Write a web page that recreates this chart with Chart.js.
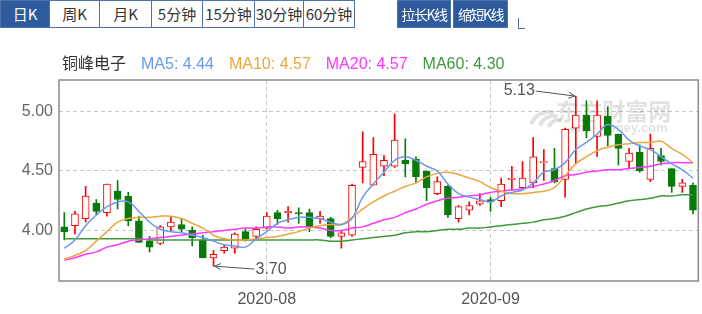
<!DOCTYPE html>
<html>
<head>
<meta charset="utf-8">
<script src="https://cdn.jsdelivr.net/npm/chart.js@4"></script>
<style>
body { margin: 0; width: 702px; height: 314px; overflow: hidden; background: #fff; position: relative;
  font-family: "Liberation Sans", Arial, "Noto Sans CJK SC", sans-serif; }
canvas { position: absolute; left: 0; top: 0; }
.tab { position: absolute; top: 0; height: 28px; box-sizing: border-box; border: 1px solid #4c73ad;
  font-size: 15px; line-height: 26px; text-align: center; color: #333; background: #fff;
  font-family: "Noto Sans CJK SC", sans-serif; white-space: nowrap; overflow: hidden; }
.tab.on, .btn { background: #2e5b9c; color: #fff; }
.btn { font-size: 14px; letter-spacing: -1.5px; }
#legend { position: absolute; left: 62px; top: 53px; font-size: 16px; white-space: nowrap; line-height: 18px; }
#legend span { margin-right: 15px; }
</style>
</head>
<body>
<canvas id="kline" width="702" height="314"></canvas>
<div class="tab on" style="left:0;width:50px">日K</div>
<div class="tab" style="left:49px;width:51px">周K</div>
<div class="tab" style="left:99px;width:53px">月K</div>
<div class="tab" style="left:151px;width:52px">5分钟</div>
<div class="tab" style="left:202px;width:53px">15分钟</div>
<div class="tab" style="left:254px;width:50px">30分钟</div>
<div class="tab" style="left:303px;width:52px">60分钟</div>
<div class="tab btn" style="left:397px;width:54px">拉长K线</div>
<div class="tab btn" style="left:453px;width:55px">缩短K线</div>
<div style="position:absolute;left:518px;top:18px;width:6px;height:10px;border-left:1px solid #4c73ad;border-bottom:1px solid #4c73ad"></div>
<div id="legend"></div>
<script>
const stockName = "铜峰电子";

const dates = [
  "2020-07-07", "2020-07-08", "2020-07-09", "2020-07-10", "2020-07-13", "2020-07-14", "2020-07-15",
  "2020-07-16", "2020-07-17", "2020-07-20", "2020-07-21", "2020-07-22", "2020-07-23", "2020-07-24",
  "2020-07-27", "2020-07-28", "2020-07-29", "2020-07-30", "2020-07-31",
  "2020-08-03", "2020-08-04", "2020-08-05", "2020-08-06", "2020-08-07", "2020-08-10", "2020-08-11",
  "2020-08-12", "2020-08-13", "2020-08-14", "2020-08-17", "2020-08-18", "2020-08-19", "2020-08-20",
  "2020-08-21", "2020-08-24", "2020-08-25", "2020-08-26", "2020-08-27", "2020-08-28", "2020-08-31",
  "2020-09-01", "2020-09-02", "2020-09-03", "2020-09-04", "2020-09-07", "2020-09-08", "2020-09-09",
  "2020-09-10", "2020-09-11", "2020-09-14", "2020-09-15", "2020-09-16", "2020-09-17", "2020-09-18",
  "2020-09-21", "2020-09-22", "2020-09-23", "2020-09-24", "2020-09-25", "2020-09-28"
];

const opens = [4.03, 4.04, 4.10, 4.23, 4.15, 4.33, 4.29, 4.08, 3.91, 3.89,
  4.03, 4.05, 4.00, 3.92, 3.77, 3.83, 3.85, 3.99, 3.95, 4.02,
  4.15, 4.15, 4.15, 4.15, 4.10, 4.10, 3.95, 3.96, 4.53, 4.38,
  4.54, 4.54, 4.59, 4.60, 4.50, 4.31, 4.37, 4.10, 4.17, 4.22,
  4.26, 4.25, 4.43, 4.36, 4.40, 4.57, 4.52, 4.43, 4.86, 4.97,
  4.79, 4.96, 4.81, 4.58, 4.66, 4.43, 4.63, 4.52, 4.37, 4.38];
const closes = [3.99, 4.14, 4.29, 4.16, 4.39, 4.26, 4.08, 3.90, 3.86, 4.03,
  4.07, 4.01, 3.94, 3.77, 3.80, 3.86, 3.97, 3.92, 4.01, 4.12,
  4.10, 4.16, 4.14, 4.03, 4.12, 3.95, 3.98, 4.38, 4.58, 4.64,
  4.59, 4.76, 4.56, 4.45, 4.36, 4.41, 4.13, 4.20, 4.21, 4.25,
  4.24, 4.39, 4.44, 4.44, 4.62, 4.58, 4.41, 4.85, 4.97, 4.84,
  4.97, 4.80, 4.69, 4.65, 4.50, 4.69, 4.58, 4.37, 4.40, 4.17];
const highs = [4.15, 4.16, 4.37, 4.26, 4.39, 4.42, 4.32, 4.12, 3.95, 4.04,
  4.11, 4.10, 4.03, 3.96, 3.83, 3.88, 3.98, 4.01, 4.03, 4.15,
  4.17, 4.20, 4.19, 4.18, 4.16, 4.11, 4.00, 4.39, 4.83, 4.78,
  4.63, 4.98, 4.77, 4.62, 4.50, 4.45, 4.38, 4.21, 4.24, 4.31,
  4.28, 4.44, 4.54, 4.58, 4.78, 4.68, 4.69, 4.86, 5.13, 5.09,
  5.09, 5.04, 4.81, 4.69, 4.72, 4.81, 4.69, 4.52, 4.43, 4.40];
const lows = [3.92, 3.97, 4.07, 4.13, 4.12, 4.18, 4.04, 3.90, 3.82, 3.88,
  3.99, 3.99, 3.87, 3.77, 3.70, 3.81, 3.81, 3.91, 3.94, 4.01,
  4.05, 4.07, 4.06, 3.99, 4.06, 3.94, 3.85, 3.95, 4.40, 4.38,
  4.46, 4.53, 4.45, 4.40, 4.25, 4.30, 4.11, 4.07, 4.13, 4.21,
  4.16, 4.20, 4.34, 4.35, 4.36, 4.42, 4.40, 4.28, 4.56, 4.78,
  4.62, 4.71, 4.55, 4.52, 4.49, 4.41, 4.55, 4.32, 4.32, 4.14];

const ma5 = [3.85, 3.92, 4.04, 4.13, 4.20, 4.24, 4.24, 4.16, 4.07, 4.01,
  3.99, 3.98, 3.96, 3.94, 3.91, 3.88, 3.87, 3.86, 3.93, 3.99,
  4.06, 4.09, 4.11, 4.11, 4.10, 4.07, 4.05, 4.10, 4.28, 4.39,
  4.49, 4.59, 4.62, 4.59, 4.54, 4.50, 4.39, 4.31, 4.28, 4.26,
  4.24, 4.29, 4.32, 4.34, 4.40, 4.49, 4.51, 4.57, 4.68, 4.74,
  4.81, 4.89, 4.85, 4.76, 4.71, 4.68, 4.62, 4.56, 4.51, 4.44];
const ma10 = [3.76, 3.79, 3.83, 3.91, 3.99, 4.07, 4.10, 4.11, 4.11, 4.12,
  4.12, 4.10, 4.06, 4.02, 3.96, 3.93, 3.92, 3.92, 3.93, 3.94,
  3.95, 3.97, 3.99, 4.02, 4.04, 4.05, 4.05, 4.11, 4.18, 4.24,
  4.29, 4.33, 4.37, 4.40, 4.45, 4.48, 4.49, 4.47, 4.44, 4.41,
  4.36, 4.33, 4.31, 4.31, 4.32, 4.33, 4.36, 4.46, 4.56, 4.62,
  4.67, 4.70, 4.72, 4.73, 4.74, 4.74, 4.75, 4.69, 4.64, 4.57];
const ma20 = [3.75, 3.77, 3.80, 3.82, 3.86, 3.88, 3.91, 3.92, 3.93, 3.94,
  3.95, 3.96, 3.97, 3.98, 3.99, 4.00, 4.01, 4.02, 4.02, 4.03,
  4.03, 4.02, 4.03, 4.03, 4.02, 4.00, 4.00, 4.02, 4.03, 4.06,
  4.09, 4.11, 4.15, 4.18, 4.22, 4.25, 4.27, 4.28, 4.29, 4.30,
  4.32, 4.33, 4.34, 4.35, 4.37, 4.39, 4.42, 4.46, 4.47, 4.49,
  4.50, 4.51, 4.51, 4.52, 4.53, 4.54, 4.56, 4.57, 4.57, 4.57];
const ma60 = [3.93, 3.93, 3.93, 3.93, 3.93, 3.93, 3.93, 3.93, 3.92, 3.92,
  3.92, 3.92, 3.92, 3.92, 3.92, 3.92, 3.92, 3.92, 3.92, 3.92,
  3.92, 3.92, 3.92, 3.92, 3.92, 3.91, 3.91, 3.92, 3.93, 3.94,
  3.95, 3.96, 3.98, 3.99, 3.99, 4.00, 4.01, 4.01, 4.02, 4.02,
  4.03, 4.04, 4.05, 4.06, 4.07, 4.09, 4.10, 4.12, 4.15, 4.18,
  4.20, 4.21, 4.23, 4.25, 4.26, 4.27, 4.29, 4.29, 4.30, 4.30];

const yTicks = [4.00, 4.50, 5.00];
const monthStarts = ["2020-08-03", "2020-09-01"];
const monthLabels = ["2020-08", "2020-09"];

const RED = "#ff0000";
const GREEN = "#087a08";
const maLines = [
  { name: "MA5", data: ma5, color: "#6c98ee" },
  { name: "MA10", data: ma10, color: "#e9a73e" },
  { name: "MA20", data: ma20, color: "#ff36ff" },
  { name: "MA60", data: ma60, color: "#3c9a3c" },
];

// legend row
const legend = document.getElementById("legend");
legend.innerHTML = '<span style="color:#333;font-family:\'Noto Sans CJK SC\',sans-serif">' + stockName + "</span>" +
  maLines.map(m => '<span style="color:' + m.color + '">' + m.name + ": " +
    m.data[m.data.length - 1].toFixed(2) + "</span>").join("");

const isUp = opens.map((o, i) => closes[i] >= o);

// frame, extremes with arrows, watermark
const extras = {
  id: "extras",
  beforeDatasetsDraw(chart) {
    const { ctx, chartArea: a } = chart;
    ctx.save();
    ctx.fillStyle = "rgba(120,120,120,0.22)";
    ctx.strokeStyle = "rgba(120,120,120,0.22)";
    ctx.font = "bold 23px 'Noto Sans CJK SC', sans-serif";
    ctx.textBaseline = "middle";
    ctx.fillText("东方财富网", a.right - 142, a.top + 31);
    ctx.font = "bold 13px 'Liberation Sans', Arial, sans-serif";
    ctx.fillText("eastmoney.com", a.right - 128, a.top + 48);
    ctx.lineWidth = 4;
    for (let k = 0; k < 3; k++) {
      ctx.beginPath();
      ctx.arc(a.right - 150 + k * 5, a.top + 50, 18 - k * 4, Math.PI * 1.1, Math.PI * 1.6);
      ctx.stroke();
    }
    ctx.restore();
  },
  afterDatasetsDraw(chart) {
    const { ctx, chartArea: a, scales: { x, y } } = chart;
    ctx.save();
    ctx.strokeStyle = "#8a8a8a";
    ctx.lineWidth = 1.5;
    ctx.strokeRect(a.left, a.top, a.right - a.left, a.bottom - a.top);

    const arrow = (x1, y1, x2, y2) => {
      ctx.beginPath(); ctx.moveTo(x1, y1); ctx.lineTo(x2, y2); ctx.stroke();
      const ang = Math.atan2(y2 - y1, x2 - x1);
      ctx.beginPath();
      ctx.moveTo(x2 - 7 * Math.cos(ang - 0.45), y2 - 7 * Math.sin(ang - 0.45));
      ctx.lineTo(x2, y2);
      ctx.lineTo(x2 - 7 * Math.cos(ang + 0.45), y2 - 7 * Math.sin(ang + 0.45));
      ctx.stroke();
    };
    ctx.strokeStyle = "#555";
    ctx.fillStyle = "#555";
    ctx.lineWidth = 1;
    ctx.font = "16px 'Liberation Sans', Arial, sans-serif";
    ctx.textBaseline = "middle";

    const iMax = highs.indexOf(Math.max(...highs));
    const hx = x.getPixelForValue(iMax), hy = y.getPixelForValue(highs[iMax]);
    ctx.textAlign = "right";
    ctx.fillText(highs[iMax].toFixed(2), hx - 41, hy - 5);
    arrow(hx - 40, hy - 5, hx - 1, hy);

    const iMin = lows.indexOf(Math.min(...lows));
    const lx = x.getPixelForValue(iMin), ly = y.getPixelForValue(lows[iMin]);
    ctx.textAlign = "left";
    ctx.fillText(lows[iMin].toFixed(2), lx + 42, ly + 3);
    arrow(lx + 41, ly + 3, lx + 1, ly);
    ctx.restore();
  }
};

new Chart(document.getElementById("kline"), {
  type: "bar",
  data: {
    labels: dates,
    datasets: [
      ...maLines.map(m => ({
        type: "line",
        label: m.name,
        data: m.data,
        borderColor: m.color,
        borderWidth: 1.5,
        pointRadius: 0,
        tension: 0.4,
        order: 0,
      })),
      {
        label: "body",
        data: opens.map((o, i) => [o, closes[i]]),
        backgroundColor: isUp.map(u => (u ? "#fff" : GREEN)),
        borderColor: isUp.map(u => (u ? RED : GREEN)),
        borderWidth: 1,
        borderSkipped: false,
        barThickness: 7,
        minBarLength: 1,
        grouped: false,
        order: 1,
      },
      {
        label: "wick",
        data: lows.map((l, i) => [l, highs[i]]),
        backgroundColor: isUp.map(u => (u ? RED : GREEN)),
        borderWidth: 0,
        barThickness: 1,
        grouped: false,
        order: 2,
      },
    ],
  },
  options: {
    responsive: false,
    animation: false,
    layout: { padding: { top: 80, right: 1, bottom: 0, left: 0 } },
    plugins: {
      legend: { display: false },
      tooltip: { enabled: false },
    },
    scales: {
      x: {
        offset: true,
        grid: {
          offset: false,
          drawTicks: false,
          color: c => (monthStarts.includes(dates[c.index]) ? "#c8c8c8" : "rgba(0,0,0,0)"),
        },
        border: { display: false, dash: [4, 3] },
        ticks: {
          autoSkip: false,
          maxRotation: 0,
          padding: 9,
          color: "#555",
          font: { size: 16, family: "'Liberation Sans', Arial, sans-serif" },
          callback: (v, i) => {
            const k = monthStarts.indexOf(dates[i]);
            return k >= 0 ? monthLabels[k] : "";
          },
        },
        afterFit: s => { s.height = 33; },
      },
      y: {
        min: 3.575,
        max: 5.265,
        afterBuildTicks: s => { s.ticks = yTicks.map(v => ({ value: v })); },
        grid: { color: "#c8c8c8", drawTicks: false },
        border: { display: false, dash: [4, 3] },
        ticks: {
          padding: 6,
          color: "#666",
          font: { size: 16, family: "'Liberation Sans', Arial, sans-serif" },
          callback: v => v.toFixed(2),
        },
        afterFit: s => { s.width = 59; },
      },
    },
  },
  plugins: [extras],
});
</script>
</body>
</html>
